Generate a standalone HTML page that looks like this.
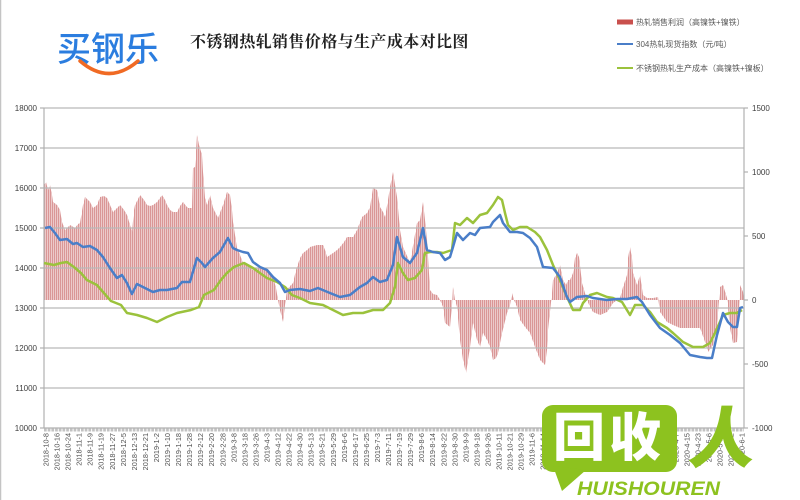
<!DOCTYPE html>
<html>
<head>
<meta charset="utf-8">
<style>
html,body{margin:0;padding:0;background:#fff;}
svg{display:block;}
.ax{font-family:"Liberation Sans","Noto Sans CJK SC",sans-serif;font-size:8px;fill:#404040;}
.xl{font-family:"Liberation Sans",sans-serif;font-size:7.3px;fill:#505050;}
.lg{font-family:"Liberation Sans","Noto Sans CJK SC",sans-serif;font-size:8px;fill:#595959;}
</style>
</head>
<body>
<svg width="800" height="500" viewBox="0 0 800 500" xmlns="http://www.w3.org/2000/svg">
<defs>
<pattern id="bars" patternUnits="userSpaceOnUse" width="2" height="4">
<rect x="0" y="0" width="1.5" height="4" fill="#da9696"/>
</pattern>
</defs>
<rect x="0" y="0" width="800" height="500" fill="#fff"/>
<line x1="0.5" y1="0" x2="0.5" y2="500" stroke="#c4c4c4" stroke-width="1.5"/>

<!-- logo -->
<text x="57" y="61" font-family="'Noto Sans CJK SC','WenQuanYi Zen Hei',sans-serif" font-size="34" font-weight="500" fill="#2b7ddf">买钢乐</text>
<path d="M80,61 Q109,86 138,61" fill="none" stroke="#f06a24" stroke-width="3.5" stroke-linecap="round"/>

<!-- title -->
<text x="190" y="47" font-family="'Noto Serif CJK SC','Noto Sans CJK SC',serif" font-size="16" font-weight="700" fill="#222" letter-spacing="0.4">不锈钢热轧销售价格与生产成本对比图</text>

<!-- legend -->
<rect x="617" y="19.5" width="16" height="5" fill="#c9504d"/>
<text class="lg" x="636" y="25">热轧销售利润（高镍铁+镍铁）</text>
<line x1="617" y1="44" x2="633" y2="44" stroke="#4a7ec8" stroke-width="2"/>
<text class="lg" x="636" y="47">304热轧现货指数（元/吨）</text>
<line x1="617" y1="68" x2="633" y2="68" stroke="#9bc23c" stroke-width="2"/>
<text class="lg" x="636" y="71">不锈钢热轧生产成本（高镍铁+镍板）</text>

<!-- bars -->
<polygon fill="url(#bars)" points="44,300 44,185 46,182 48,190 50,185 52,195 53,202 57,205 60,210 62,222 65,230 70,225 75,228 78,224 80,223 83,205 85,197 88,200 90,202 93,208 97,205 100,197 104,196 107,198 110,205 113,212 117,208 120,205 124,210 127,215 130,225 132,232 134,210 135,205 140,195 144,200 147,205 150,206 153,205 157,202 162,195 165,200 167,205 170,210 173,212 177,212 180,206 183,202 186,206 188,208 192,208 193,168 195,167 197,135 199,145 202,155 203,172 205,198 207,205 210,195 213,208 216,214 218,218 221,210 223,205 227,192 230,195 232,210 233,222 237,248 240,255 243,263 248,266 253,270 258,268 263,267 268,272 273,277 276,288 278,300 280,310 283,322 285,305 287,290 290,286 293,283 296,270 300,258 303,253 307,250 310,247 317,245 323,245 325,250 327,257 330,255 333,253 337,250 340,247 344,242 347,237 353,237 357,230 360,222 362,217 367,213 370,207 373,188 377,190 380,207 383,212 385,217 388,200 390,187 393,172 395,185 397,197 400,230 403,247 407,256 410,263 414,240 417,223 420,220 423,202 425,220 427,240 430,290 433,294 437,295 440,300 443,307 445,323 450,327 452,305 453,287 455,300 457,307 460,340 463,360 466,373 468,360 470,347 473,323 477,340 480,347 483,333 487,340 490,347 493,360 496,358 498,353 502,333 507,313 510,305 512,293 514,300 517,307 520,320 525,327 530,333 535,347 540,360 545,365 547,350 548,330 552,293 553,280 557,273 560,265 563,280 566,285 568,280 570,280 573,273 575,258 577,253 579,257 582,283 587,300 590,307 593,312 600,315 607,312 613,303 620,298 623,287 627,275 628,258 630,247 632,258 633,273 637,285 640,275 643,295 647,298 653,298 658,297 660,312 667,322 673,325 680,328 700,328 705,342 708,352 713,345 717,325 719,300 720,287 723,285 727,298 730,328 733,343 737,342 739,310 740,285 743,292 744,300"/>

<!-- gridlines -->
<g stroke="#b9b9b9" stroke-width="1.2">
<line x1="44" y1="108" x2="744" y2="108"/>
<line x1="44" y1="148" x2="744" y2="148"/>
<line x1="44" y1="188" x2="744" y2="188"/>
<line x1="44" y1="228" x2="744" y2="228"/>
<line x1="44" y1="268" x2="744" y2="268"/>
<line x1="44" y1="308" x2="744" y2="308"/>
<line x1="44" y1="348" x2="744" y2="348"/>
<line x1="44" y1="388" x2="744" y2="388"/>
</g>
<!-- axes -->
<g stroke="#b0b0b0" stroke-width="1.2">
<line x1="44" y1="108" x2="44" y2="428"/>
<line x1="744" y1="108" x2="744" y2="428"/>
<line x1="44" y1="428" x2="744" y2="428"/>
<line x1="40" y1="108" x2="44" y2="108"/>
<line x1="40" y1="148" x2="44" y2="148"/>
<line x1="40" y1="188" x2="44" y2="188"/>
<line x1="40" y1="228" x2="44" y2="228"/>
<line x1="40" y1="268" x2="44" y2="268"/>
<line x1="40" y1="308" x2="44" y2="308"/>
<line x1="40" y1="348" x2="44" y2="348"/>
<line x1="40" y1="388" x2="44" y2="388"/>
<line x1="40" y1="428" x2="44" y2="428"/>
<line x1="744" y1="108" x2="748" y2="108"/>
<line x1="744" y1="172" x2="748" y2="172"/>
<line x1="744" y1="236" x2="748" y2="236"/>
<line x1="744" y1="300" x2="748" y2="300"/>
<line x1="744" y1="364" x2="748" y2="364"/>
<line x1="744" y1="428" x2="748" y2="428"/>
</g>
<line x1="44" y1="430" x2="744" y2="430" stroke="#c2c2c2" stroke-width="3" stroke-dasharray="2.7 1"/>

<!-- green line -->
<polyline fill="none" stroke="#9bc23c" stroke-width="2.5" stroke-linejoin="round" points="44,263 54,265 61,263 67,262 74,267 81,273 87,280 97,285 104,293 111,301 121,305 127,313 137,315 147,318 157,322 167,317 177,313 191,310 199,307 204,295 214,290 221,280 227,273 234,267 244,263 253,268 260,273 267,278 277,282 285,287 292,295 300,298 310,303 323,305 333,310 343,315 353,313 363,313 373,310 383,310 390,303 395,287 398,263 403,273 408,280 415,278 422,270 425,253 430,252 437,252 443,253 452,250 455,223 460,225 467,218 473,223 480,215 487,213 493,205 498,197 502,200 505,213 508,225 513,230 520,227 527,227 535,232 540,237 547,250 553,265 560,280 567,297 573,310 580,310 583,303 590,295 597,293 607,297 613,298 622,302 630,315 635,305 643,305 650,312 657,322 667,328 673,333 683,342 693,347 703,347 710,343 715,333 723,315 730,313 737,313 742,310"/>

<!-- blue line -->
<polyline fill="none" stroke="#4a7ec8" stroke-width="2.5" stroke-linejoin="round" points="45,228 50,227 55,233 60,240 67,239 73,244 77,243 83,247 90,246 97,250 103,257 110,268 117,278 122,275 127,283 132,294 137,284 143,287 153,292 160,290 167,290 177,288 182,282 190,282 197,258 202,263 205,267 213,258 220,252 228,238 233,248 237,250 243,252 248,253 253,262 260,267 267,270 273,277 280,283 285,292 290,290 300,289 310,291 318,288 330,293 340,297 350,295 360,287 367,283 373,277 380,282 387,280 393,265 397,237 403,257 410,263 417,253 423,228 427,250 433,252 440,253 445,260 450,257 453,247 457,233 463,240 470,233 475,235 480,228 490,227 493,222 500,215 503,223 510,232 517,232 523,233 530,238 537,247 543,267 553,268 560,277 567,297 570,302 577,297 587,296 593,298 607,300 617,299 627,299 637,297 642,302 650,315 660,328 670,335 680,343 690,355 700,357 707,358 712,358 717,335 723,313 728,322 733,327 737,327 740,308 743,307"/>

<!-- left axis labels -->
<g class="ax" text-anchor="end">
<text x="37" y="111">18000</text>
<text x="37" y="151">17000</text>
<text x="37" y="191">16000</text>
<text x="37" y="231">15000</text>
<text x="37" y="271">14000</text>
<text x="37" y="311">13000</text>
<text x="37" y="351">12000</text>
<text x="37" y="391">11000</text>
<text x="37" y="431">10000</text>
</g>
<!-- right axis labels -->
<g class="ax">
<text x="752" y="111">1500</text>
<text x="752" y="175">1000</text>
<text x="752" y="239">500</text>
<text x="752" y="303">0</text>
<text x="752" y="367">-500</text>
<text x="752" y="431">-1000</text>
</g>

<!-- x labels -->
<g class="xl" text-anchor="end">
<text transform="translate(48.5,433) rotate(-90)">2018-10-8</text>
<text transform="translate(59.5,433) rotate(-90)">2018-10-16</text>
<text transform="translate(70.6,433) rotate(-90)">2018-10-24</text>
<text transform="translate(81.6,433) rotate(-90)">2018-11-1</text>
<text transform="translate(92.7,433) rotate(-90)">2018-11-9</text>
<text transform="translate(103.7,433) rotate(-90)">2018-11-19</text>
<text transform="translate(114.8,433) rotate(-90)">2018-11-27</text>
<text transform="translate(125.8,433) rotate(-90)">2018-12-5</text>
<text transform="translate(136.9,433) rotate(-90)">2018-12-13</text>
<text transform="translate(147.9,433) rotate(-90)">2018-12-21</text>
<text transform="translate(159,433) rotate(-90)">2019-1-2</text>
<text transform="translate(170,433) rotate(-90)">2019-1-10</text>
<text transform="translate(181.1,433) rotate(-90)">2019-1-18</text>
<text transform="translate(192.1,433) rotate(-90)">2019-1-28</text>
<text transform="translate(203.2,433) rotate(-90)">2019-2-12</text>
<text transform="translate(214.2,433) rotate(-90)">2019-2-20</text>
<text transform="translate(225.3,433) rotate(-90)">2019-2-28</text>
<text transform="translate(236.3,433) rotate(-90)">2019-3-8</text>
<text transform="translate(247.4,433) rotate(-90)">2019-3-18</text>
<text transform="translate(258.4,433) rotate(-90)">2019-3-26</text>
<text transform="translate(269.5,433) rotate(-90)">2019-4-3</text>
<text transform="translate(280.5,433) rotate(-90)">2019-4-12</text>
<text transform="translate(291.6,433) rotate(-90)">2019-4-22</text>
<text transform="translate(302.6,433) rotate(-90)">2019-4-30</text>
<text transform="translate(313.7,433) rotate(-90)">2019-5-13</text>
<text transform="translate(324.7,433) rotate(-90)">2019-5-21</text>
<text transform="translate(335.8,433) rotate(-90)">2019-5-29</text>
<text transform="translate(346.8,433) rotate(-90)">2019-6-6</text>
<text transform="translate(357.9,433) rotate(-90)">2019-6-17</text>
<text transform="translate(368.9,433) rotate(-90)">2019-6-25</text>
<text transform="translate(380,433) rotate(-90)">2019-7-3</text>
<text transform="translate(391,433) rotate(-90)">2019-7-11</text>
<text transform="translate(402.1,433) rotate(-90)">2019-7-19</text>
<text transform="translate(413.1,433) rotate(-90)">2019-7-29</text>
<text transform="translate(424.2,433) rotate(-90)">2019-8-6</text>
<text transform="translate(435.2,433) rotate(-90)">2019-8-14</text>
<text transform="translate(446.3,433) rotate(-90)">2019-8-22</text>
<text transform="translate(457.3,433) rotate(-90)">2019-8-30</text>
<text transform="translate(468.4,433) rotate(-90)">2019-9-9</text>
<text transform="translate(479.4,433) rotate(-90)">2019-9-18</text>
<text transform="translate(490.5,433) rotate(-90)">2019-9-26</text>
<text transform="translate(501.5,433) rotate(-90)">2019-10-11</text>
<text transform="translate(512.6,433) rotate(-90)">2019-10-21</text>
<text transform="translate(523.6,433) rotate(-90)">2019-10-29</text>
<text transform="translate(534.7,433) rotate(-90)">2019-11-6</text>
<text transform="translate(545.7,433) rotate(-90)">2019-11-14</text>
<text transform="translate(556.8,433) rotate(-90)">2019-11-22</text>
<text transform="translate(567.8,433) rotate(-90)">2019-12-2</text>
<text transform="translate(578.9,433) rotate(-90)">2019-12-10</text>
<text transform="translate(589.9,433) rotate(-90)">2019-12-18</text>
<text transform="translate(601,433) rotate(-90)">2019-12-26</text>
<text transform="translate(612,433) rotate(-90)">2020-1-6</text>
<text transform="translate(623.1,433) rotate(-90)">2020-1-14</text>
<text transform="translate(634.1,433) rotate(-90)">2020-2-10</text>
<text transform="translate(645.2,433) rotate(-90)">2020-3-11</text>
<text transform="translate(656.2,433) rotate(-90)">2020-3-19</text>
<text transform="translate(667.3,433) rotate(-90)">2020-3-27</text>
<text transform="translate(678.3,433) rotate(-90)">2020-4-7</text>
<text transform="translate(689.4,433) rotate(-90)">2020-4-15</text>
<text transform="translate(700.4,433) rotate(-90)">2020-4-23</text>
<text transform="translate(711.5,433) rotate(-90)">2020-5-6</text>
<text transform="translate(722.5,433) rotate(-90)">2020-5-14</text>
<text transform="translate(733.6,433) rotate(-90)">2020-5-22</text>
<text transform="translate(744.6,433) rotate(-90)">2020-6-1</text>
</g>

<!-- watermark -->
<rect x="542" y="405" width="135" height="67" rx="11" fill="#8dc21f"/>
<polygon points="553,466 562,491 586,470" fill="#8dc21f"/>
<text x="553" y="456" font-family="'Noto Sans CJK SC','WenQuanYi Zen Hei',sans-serif" font-size="52" font-weight="900" fill="#fff" letter-spacing="4">回收</text>
<text x="690" y="462" font-family="'Noto Sans CJK SC','WenQuanYi Zen Hei',sans-serif" font-size="66" font-weight="900" fill="#8dc21f" transform="skewX(-8) translate(62,0)">人</text>
<text x="577" y="495" font-family="'Liberation Sans',sans-serif" font-size="19" font-weight="700" font-style="italic" fill="#8dc21f" textLength="143" lengthAdjust="spacingAndGlyphs">HUISHOUREN</text>
</svg>
</body>
</html>
